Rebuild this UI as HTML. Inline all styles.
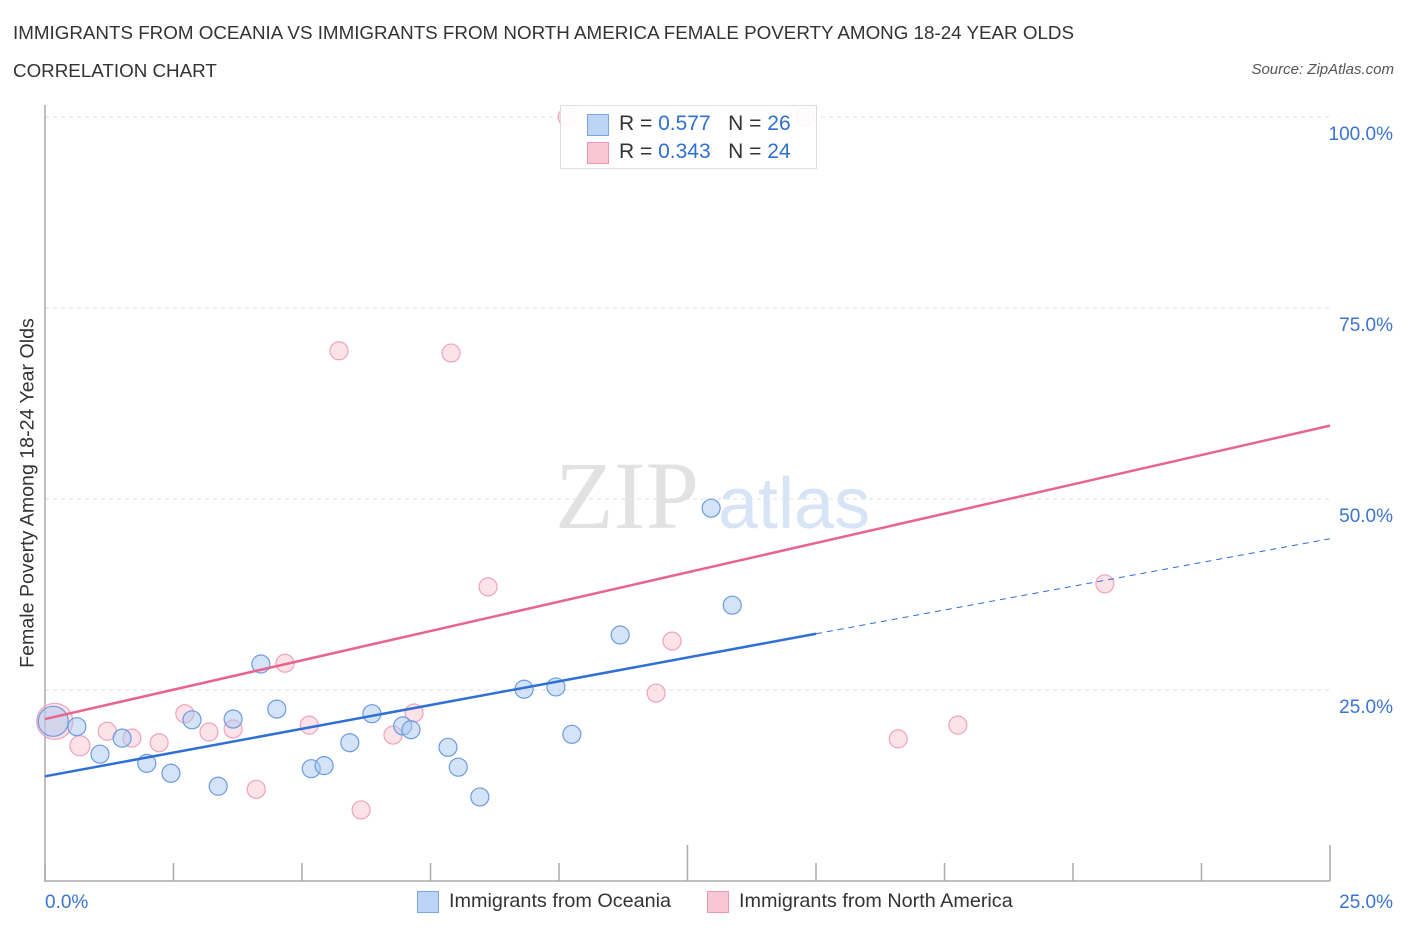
<!DOCTYPE html>
<html><head><meta charset="utf-8"><style>
body{margin:0;background:#fff;font-family:"Liberation Sans",sans-serif;}
#wrap{position:relative;width:1406px;height:930px;overflow:hidden}
.t{position:absolute;white-space:nowrap}
</style></head><body><div id="wrap">
<div class="t" style="left:13px;top:22px;font-size:18.8px;color:#333">IMMIGRANTS FROM OCEANIA VS IMMIGRANTS FROM NORTH AMERICA FEMALE POVERTY AMONG 18-24 YEAR OLDS</div>
<div class="t" style="left:13px;top:60px;font-size:18.8px;color:#333">CORRELATION CHART</div>
<div class="t" style="right:12px;top:61px;font-size:15px;color:#555;font-style:italic">Source: ZipAtlas.com</div>
<div class="t" style="left:28px;top:493px;font-size:19.6px;color:#333;transform:translate(-50%,-50%) rotate(-90deg)">Female Poverty Among 18-24 Year Olds</div>
<svg id="svg" width="1406" height="930" style="position:absolute;left:0;top:0"></svg>
<div style="position:absolute;left:560px;top:105px;width:255px;height:62px;border:1px solid #ddd;background:rgba(255,255,255,0.9);font-size:21px">
 <div style="position:absolute;left:26px;top:8px;width:20px;height:20px;background:#bcd5f7;border:1px solid #7aa6e6"></div>
 <div class="t" style="left:58px;top:6px;color:#333">R = <span style="color:#2f6fcf">0.577</span>&nbsp;&nbsp;&nbsp;N = <span style="color:#2f6fcf">26</span></div>
 <div style="position:absolute;left:26px;top:36px;width:20px;height:20px;background:#f9c6d4;border:1px solid #ec98b0"></div>
 <div class="t" style="left:58px;top:34px;color:#333">R = <span style="color:#2f6fcf">0.343</span>&nbsp;&nbsp;&nbsp;N = <span style="color:#2f6fcf">24</span></div>
</div>
<div style="position:absolute;left:417px;top:891px;width:20px;height:20px;background:#bcd5f7;border:1px solid #7aa6e6"></div>
<div class="t" style="left:449px;top:890px;font-size:19.8px;color:#333">Immigrants from Oceania</div>
<div style="position:absolute;left:707px;top:891px;width:20px;height:20px;background:#f9c6d4;border:1px solid #ec98b0"></div>
<div class="t" style="left:739px;top:890px;font-size:19.8px;color:#333">Immigrants from North America</div>
</div>
<script>
const blueX=[0.16,0.62,1.07,1.50,1.98,2.45,2.86,3.37,3.66,4.20,4.51,5.18,5.43,5.93,6.36,6.96,7.12,7.84,8.04,8.46,9.32,9.94,10.25,11.19,12.96,13.37];
const blueY=[20.9,20.2,16.6,18.7,15.4,14.1,21.1,12.4,21.2,28.4,22.5,14.7,15.1,18.1,21.9,20.3,19.8,17.5,14.9,11.0,25.1,25.4,19.2,32.2,48.8,36.1];
const blueR=[15,9,9,9,9,9,9,9,9,9,9,9,9,9,9,9,9,9,9,9,9,9,9,9,9,9];
const pinkX=[0.19,0.68,1.21,1.69,2.22,2.72,3.19,3.66,4.11,4.67,5.14,5.72,6.15,6.77,7.18,7.90,8.62,10.16,11.89,12.20,14.79,16.60,17.76,20.62];
const pinkY=[20.9,17.7,19.6,18.7,18.1,21.9,19.5,19.9,12.0,28.5,20.4,69.4,9.3,19.1,22.0,69.1,38.5,100,24.6,31.4,100,18.6,20.4,38.9];
const pinkR=[18,10,9,9,9,9,9,9,9,9,9,9,9,9,9,9,9,9,9,9,9,9,9,9];
const blueLine=[13.7,44.8];
const pinkLine=[21.2,59.6];
const yTicks=[25,50,75,100];
const yTickLabels=["25.0%","50.0%","75.0%","100.0%"];
const xs=v=>45+v/25*1285, ys=v=>881-v*7.64;
const svg=document.getElementById('svg'),NS='http://www.w3.org/2000/svg';
function mk(t,a,name){const e=document.createElementNS(NS,t);for(const k in a)e.setAttribute(k,a[k]);


svg.appendChild(e);return e;}
yTicks.forEach((v,i)=>{mk('line',{x1:45,x2:1330,y1:ys(v),y2:ys(v),stroke:'#ddd','stroke-dasharray':'4,4'},'y-gridline');
const t=mk('text',{x:1393,y:ys(v)+23,'text-anchor':'end','font-size':19,fill:'#3b74d1','font-family':'Liberation Sans'},'y-tick-label');t.textContent=yTickLabels[i];});
mk('line',{x1:45,x2:45,y1:105,y2:882,stroke:'#aaa','stroke-width':1.5},'y-axis');
mk('line',{x1:45,x2:1330,y1:881,y2:881,stroke:'#aaa','stroke-width':1.5},'x-axis');
for(let i=0;i<=10;i++){const x=xs(i*2.5);mk('line',{x1:x,x2:x,y1:(i==5||i==10)?845:863,y2:881,stroke:'#aaa','stroke-width':1.5},'x-tick');}
let t=mk('text',{x:45,y:908,'font-size':19,fill:'#3b74d1','font-family':'Liberation Sans'},'x-tick-label-min');t.textContent='0.0%';
t=mk('text',{x:1393,y:908,'text-anchor':'end','font-size':19,fill:'#3b74d1','font-family':'Liberation Sans'},'x-tick-label-max');t.textContent='25.0%';
t=mk('text',{x:555,y:528,'font-size':96,fill:'#e2e2e2','font-family':'Liberation Serif'},'watermark-zip');t.textContent='ZIP';
t=mk('text',{x:718,y:528,'font-size':72,fill:'#d6e4f5','font-family':'Liberation Sans'},'watermark-atlas');t.textContent='atlas';
pinkX.forEach((v,i)=>mk('circle',{cx:xs(v),cy:ys(pinkY[i]),r:pinkR[i],fill:'rgba(249,190,207,0.45)',stroke:'#eea3b9','stroke-width':1.2},'point-north-america'));
blueX.forEach((v,i)=>mk('circle',{cx:xs(v),cy:ys(blueY[i]),r:blueR[i],fill:'rgba(170,200,240,0.5)',stroke:'#6b9be0','stroke-width':1.2},'point-oceania'));
const bAt=x=>blueLine[0]+(blueLine[1]-blueLine[0])*x/25, pAt=x=>pinkLine[0]+(pinkLine[1]-pinkLine[0])*x/25;
mk('line',{x1:xs(0),y1:ys(bAt(0)),x2:xs(15),y2:ys(bAt(15)),stroke:'#2f6fd6','stroke-width':2.5},'trend-oceania');
mk('line',{x1:xs(15),y1:ys(bAt(15)),x2:xs(25),y2:ys(bAt(25)),stroke:'#2f6fd6','stroke-width':1,'stroke-dasharray':'6,5'},'trend-oceania-extrapolated');
mk('line',{x1:xs(0),y1:ys(pAt(0)),x2:xs(25),y2:ys(pAt(25)),stroke:'#e8648f','stroke-width':2.5},'trend-north-america');
</script></body></html>
